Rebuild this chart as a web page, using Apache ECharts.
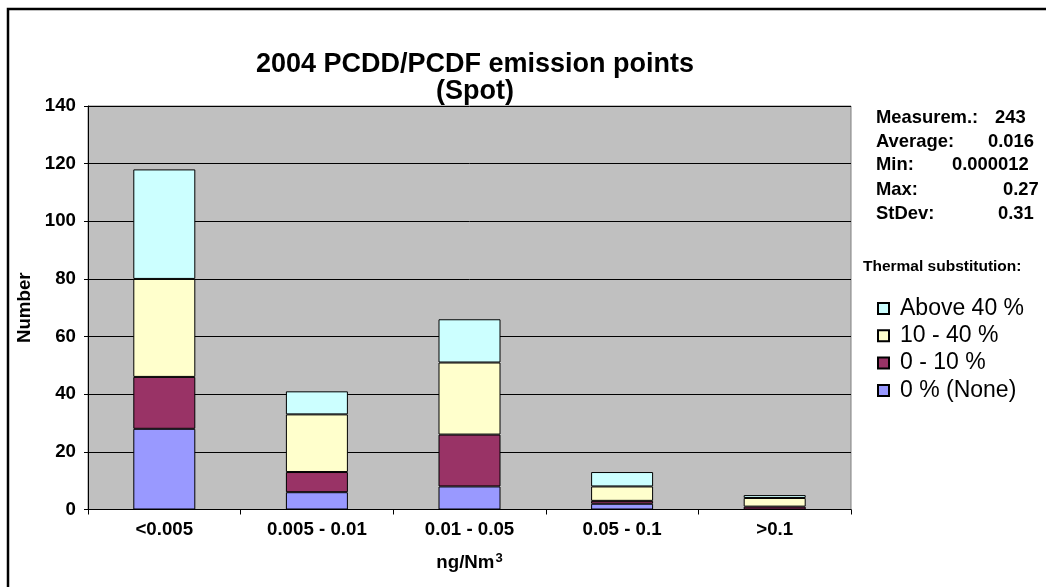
<!DOCTYPE html>
<html>
<head>
    <meta charset="utf-8">
    <script src="https://cdn.jsdelivr.net/npm/echarts@6/dist/echarts.min.js"></script>
    <style>body{margin:0;background:#fff;}</style>
</head>
<body>
    <div id="main" style="width: 1046px;height:587px;"></div>
    <script type="text/javascript">

var categories = ['<0.005', '0.005 - 0.01', '0.01 - 0.05', '0.05 - 0.1', '>0.1'];
var none_pct = [28, 6, 8, 2, 0];
var pct_0_10 = [18, 7, 18, 1, 1];
var pct_10_40 = [34, 20, 25, 5, 3];
var above_40 = [38, 8, 15, 5, 1];
var stat_names = ['Measurem.:', 'Average:', 'Min:', 'Max:', 'StDev:'];
var stat_values = ['243', '0.016', '0.000012', '0.27', '0.31'];
var stat_value_x = [995, 988, 952, 1003, 998];
var stat_row_y = [118, 142, 165, 190, 214];

var font = 'Liberation Sans, Arial, sans-serif';

var graphics = [
    // frame: only top and left edges are visible in the picture
    {type: 'polyline', shape: {points: [[8, 600], [8, 9], [1060, 9]]},
     style: {stroke: '#000', lineWidth: 2.5, fill: null}},
    {type: 'text', x: 863, y: 267,
     style: {text: 'Thermal substitution:', font: 'bold 15.5px ' + font, fill: '#000', verticalAlign: 'middle'}}
];
for (var i = 0; i < stat_names.length; i++) {
    graphics.push({type: 'text', x: 876, y: stat_row_y[i],
        style: {text: stat_names[i], font: 'bold 18.4px ' + font, fill: '#000', verticalAlign: 'middle'}});
    graphics.push({type: 'text', x: stat_value_x[i], y: stat_row_y[i],
        style: {text: stat_values[i], font: 'bold 18.4px ' + font, fill: '#000', verticalAlign: 'middle'}});
}

function bar(name, data, color) {
    return {
        name: name,
        type: 'bar',
        stack: 'total',
        barWidth: 62,
        itemStyle: {color: color, borderColor: '#000', borderWidth: 1},
        data: data
    };
}

option = {
    animation: false,
    textStyle: {fontFamily: font},
    title: {
        text: '2004 PCDD/PCDF emission points\n(Spot)',
        left: 470,
        textAlign: 'center',
        top: 46,
        textStyle: {fontSize: 27, fontWeight: 'bold', color: '#000', lineHeight: 27, fontFamily: font}
    },
    legend: {
        orient: 'vertical',
        left: 877,
        top: 297,
        padding: 0,
        itemWidth: 11,
        itemHeight: 11,
        itemGap: 4.3,
        icon: 'rect',
        data: ['Above 40 %', '10 - 40 %', '0 - 10 %', '0 % (None)'],
        textStyle: {fontSize: 23, lineHeight: 23, color: '#000', fontFamily: font, padding: [0, 0, 0, 6]}
    },
    grid: {
        left: 88, right: 195, top: 106, bottom: 77.5,
        show: true, backgroundColor: '#C0C0C0', borderColor: '#808080', borderWidth: 1
    },
    xAxis: {
        type: 'category',
        data: categories,
        axisLine: {lineStyle: {color: '#000', width: 1}},
        axisTick: {show: true, length: 5, lineStyle: {color: '#000'}},
        axisLabel: {color: '#000', fontWeight: 'bold', fontSize: 18.7, margin: 11, fontFamily: font},
        name: '{a|ng/Nm}{b|3}',
        nameLocation: 'middle',
        nameGap: 42,
        nameTextStyle: {
            rich: {
                a: {fontSize: 18.7, fontWeight: 'bold', color: '#000', fontFamily: font},
                b: {fontSize: 13, fontWeight: 'bold', color: '#000', fontFamily: font, verticalAlign: 'top', padding: [0, 0, 10, 1]}
            }
        }
    },
    yAxis: {
        type: 'value',
        min: 0, max: 140, interval: 20,
        axisLine: {show: true, lineStyle: {color: '#000', width: 1}},
        axisTick: {show: true, length: 4, lineStyle: {color: '#000'}},
        axisLabel: {color: '#000', fontWeight: 'bold', fontSize: 18.7, margin: 12, fontFamily: font},
        splitLine: {lineStyle: {color: '#000', width: 1}},
        name: 'Number',
        nameLocation: 'middle',
        nameGap: 44,
        nameRotate: 90,
        nameTextStyle: {fontSize: 18.7, fontWeight: 'bold', color: '#000', fontFamily: font}
    },
    graphic: graphics,
    series: [
        bar('0 % (None)', none_pct, '#9999FF'),
        bar('0 - 10 %', pct_0_10, '#993366'),
        bar('10 - 40 %', pct_10_40, '#FFFFCC'),
        bar('Above 40 %', above_40, '#CCFFFF')
    ]
};

var myChart = echarts.init(document.getElementById('main'));
myChart.setOption(option);

    </script>
</body>
</html>
